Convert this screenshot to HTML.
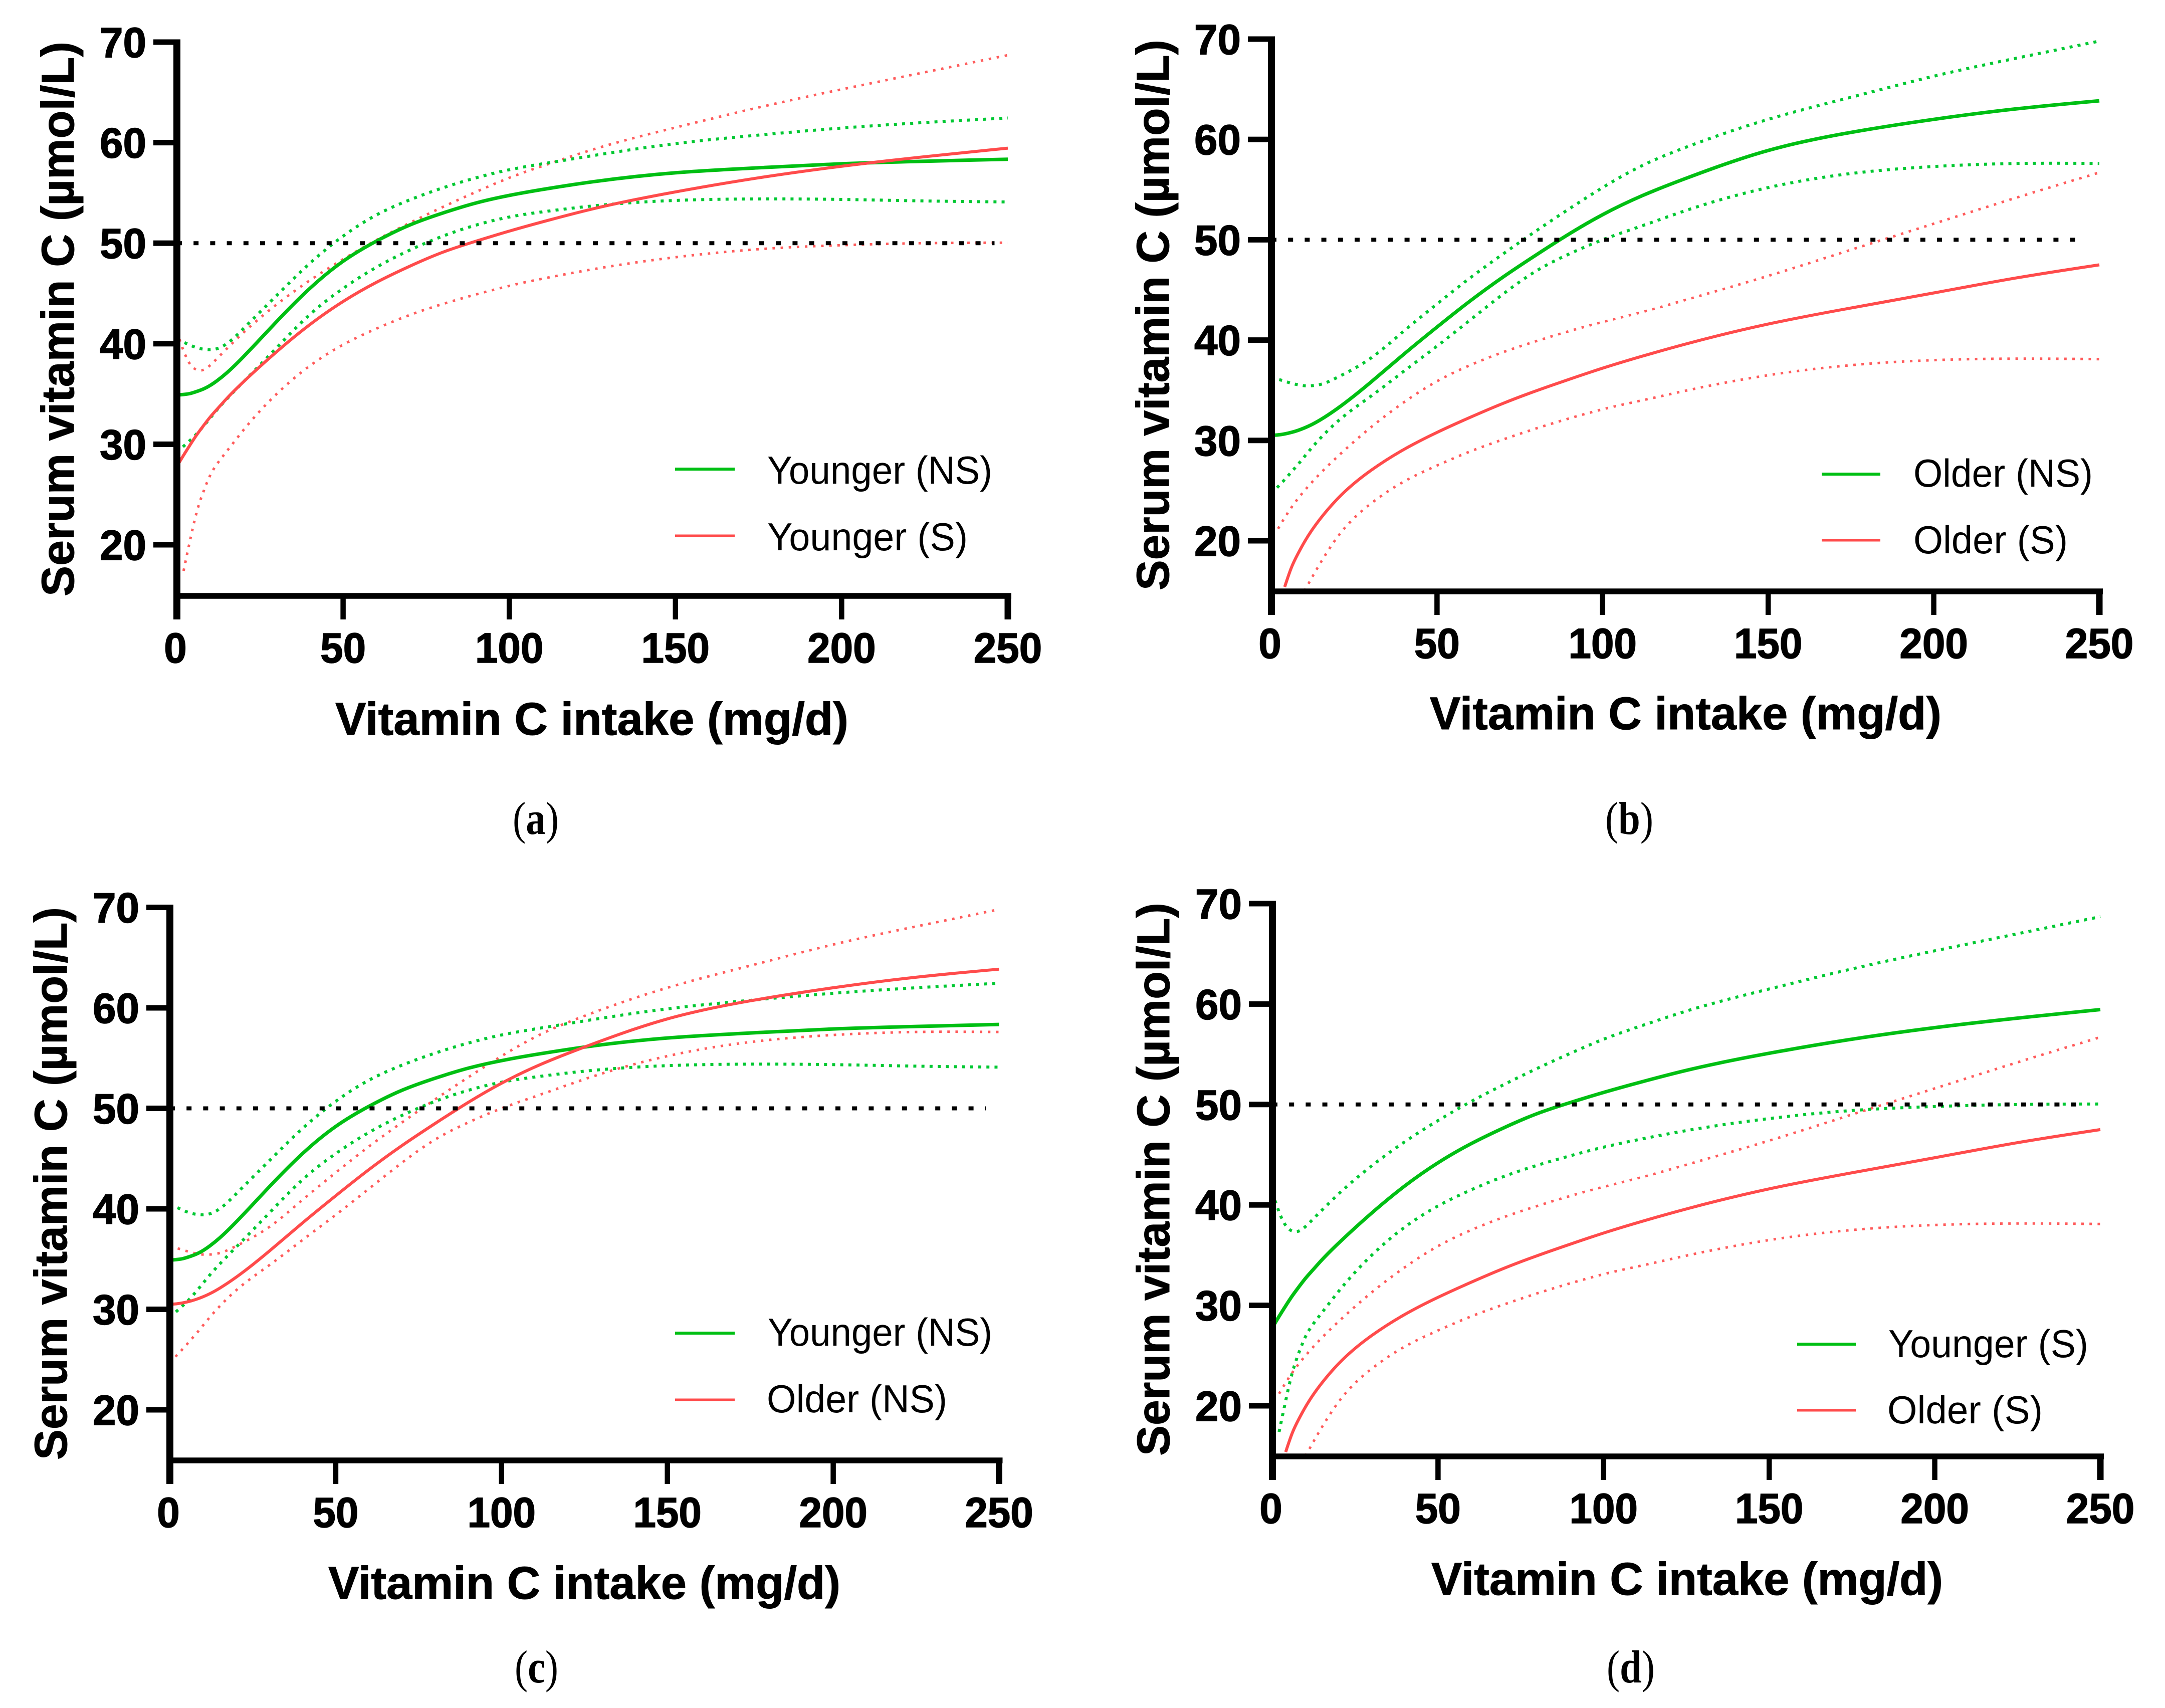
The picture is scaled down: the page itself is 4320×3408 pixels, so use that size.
<!DOCTYPE html>
<html lang="en">
<head>
<meta charset="utf-8">
<title>Serum vitamin C versus vitamin C intake</title>
<style>
html,body{margin:0;padding:0;background:#fff}
svg{display:block}
.tick{font:bold 84px "Liberation Sans",Arial,sans-serif;fill:#000;stroke:#000;stroke-width:1.5px}
.title{font:bold 92px "Liberation Sans",Arial,sans-serif;fill:#000;stroke:#000;stroke-width:1px}
.legend{font:78px "Liberation Sans",Arial,sans-serif;fill:#000}
.caption{font:92px "Liberation Serif","Times New Roman",serif;fill:#000}
</style>
</head>
<body>
<svg id="figure" xmlns="http://www.w3.org/2000/svg" width="4320" height="3408" viewBox="0 0 4320 3408">
<rect width="4320" height="3408" fill="#fff"/>

<g id="panel-a">
<g id="plot-a"></g>
<text class="title" x="147" y="1190" transform="rotate(-90 147 1190)" textLength="1107" lengthAdjust="spacingAndGlyphs">Serum vitamin C (µmol/L)</text>
<text class="title" x="669" y="1466" textLength="1024" lengthAdjust="spacingAndGlyphs">Vitamin C intake (mg/d)</text>
<line x1="1347" x2="1466" y1="936" y2="936" stroke="#00BF13" stroke-width="6"/>
<text class="legend" x="1531" y="965" textLength="449" lengthAdjust="spacingAndGlyphs">Younger (NS)</text>
<line x1="1347" x2="1466" y1="1069" y2="1069" stroke="#FF4B4B" stroke-width="5"/>
<text class="legend" x="1531" y="1098" textLength="400" lengthAdjust="spacingAndGlyphs">Younger (S)</text>
<text class="caption" x="1023" y="1664" textLength="92" lengthAdjust="spacingAndGlyphs">(<tspan font-weight="bold">a</tspan>)</text>
</g>

<g id="panel-b">
<g id="plot-b"></g>
<text class="title" x="2332" y="1178" transform="rotate(-90 2332 1178)" textLength="1099" lengthAdjust="spacingAndGlyphs">Serum vitamin C (µmol/L)</text>
<text class="title" x="2853" y="1455" textLength="1021" lengthAdjust="spacingAndGlyphs">Vitamin C intake (mg/d)</text>
<line x1="3635" x2="3752" y1="946" y2="946" stroke="#00BF13" stroke-width="6"/>
<text class="legend" x="3818" y="971" textLength="358" lengthAdjust="spacingAndGlyphs">Older (NS)</text>
<line x1="3635" x2="3752" y1="1078" y2="1078" stroke="#FF4B4B" stroke-width="5"/>
<text class="legend" x="3818" y="1104" textLength="308" lengthAdjust="spacingAndGlyphs">Older (S)</text>
<text class="caption" x="3203" y="1664" textLength="96" lengthAdjust="spacingAndGlyphs">(<tspan font-weight="bold">b</tspan>)</text>
</g>

<g id="panel-c">
<g id="plot-c"></g>
<text class="title" x="133" y="2913" transform="rotate(-90 133 2913)" textLength="1103" lengthAdjust="spacingAndGlyphs">Serum vitamin C (µmol/L)</text>
<text class="title" x="655" y="3190" textLength="1022" lengthAdjust="spacingAndGlyphs">Vitamin C intake (mg/d)</text>
<line x1="1347" x2="1466" y1="2660" y2="2660" stroke="#00BF13" stroke-width="6"/>
<text class="legend" x="1532" y="2685" textLength="448" lengthAdjust="spacingAndGlyphs">Younger (NS)</text>
<line x1="1347" x2="1466" y1="2793" y2="2793" stroke="#FF4B4B" stroke-width="5"/>
<text class="legend" x="1530" y="2818" textLength="360" lengthAdjust="spacingAndGlyphs">Older (NS)</text>
<text class="caption" x="1027" y="3357" textLength="87" lengthAdjust="spacingAndGlyphs">(<tspan font-weight="bold">c</tspan>)</text>
</g>

<g id="panel-d">
<g id="plot-d"></g>
<text class="title" x="2333" y="2905" transform="rotate(-90 2333 2905)" textLength="1104" lengthAdjust="spacingAndGlyphs">Serum vitamin C (µmol/L)</text>
<text class="title" x="2856" y="3182" textLength="1021" lengthAdjust="spacingAndGlyphs">Vitamin C intake (mg/d)</text>
<line x1="3586" x2="3703" y1="2682" y2="2682" stroke="#00BF13" stroke-width="6"/>
<text class="legend" x="3768" y="2708" textLength="399" lengthAdjust="spacingAndGlyphs">Younger (S)</text>
<line x1="3586" x2="3703" y1="2814" y2="2814" stroke="#FF4B4B" stroke-width="5"/>
<text class="legend" x="3766" y="2840" textLength="310" lengthAdjust="spacingAndGlyphs">Older (S)</text>
<text class="caption" x="3206" y="3357" textLength="96" lengthAdjust="spacingAndGlyphs">(<tspan font-weight="bold">d</tspan>)</text>
</g>
</svg>

<script>
const intakeGrid = [0,2,4,6,8,10,12,15,20,30,40,50,60,70,80,90,100,112,125,150,175,200,225,250];
const xTickValues = [0,50,100,150,200,250];
const yTickValues = [20,30,40,50,60,70];
const referenceLevel = 50;
const referenceEnd = 246;

const youngerNsMid   = [34.9,34.95,35.05,35.25,35.5,35.85,36.3,37.1,38.7,42.2,45.5,48.2,50.2,51.8,53.0,54.0,54.75,55.45,56.1,57.0,57.5,57.9,58.15,58.35];
const youngerNsUpper = [40.4,40.15,39.85,39.6,39.45,39.4,39.5,40.0,41.5,44.8,48.0,50.7,52.8,54.3,55.5,56.5,57.3,58.0,58.7,59.9,60.75,61.45,62.0,62.45];
const youngerNsLower = [29.2,29.8,30.4,31.05,31.8,32.6,33.4,34.5,36.2,39.6,42.9,45.5,47.6,49.3,50.7,51.8,52.6,53.2,53.7,54.25,54.4,54.35,54.2,54.1];

const youngerSMid   = [27.8,28.9,29.95,30.95,31.85,32.7,33.45,34.55,36.2,39.2,41.9,44.2,46.1,47.7,49.1,50.2,51.2,52.3,53.4,55.1,56.5,57.65,58.6,59.45];
const youngerSUpper = [41.2,39.3,37.95,37.4,37.4,37.85,38.5,39.5,41.1,43.9,46.3,48.4,50.3,52.0,53.6,55.1,56.5,57.9,59.3,61.5,63.5,65.3,67.0,68.7];
const youngerSLower = [null,17.4,20.5,23.3,25.3,26.9,28.0,29.3,31.4,35.0,37.8,39.9,41.5,42.85,43.95,44.9,45.75,46.6,47.4,48.6,49.4,49.8,50.0,50.05];

const olderNsMid   = [30.5,30.55,30.65,30.8,31.0,31.25,31.55,32.1,33.2,35.8,38.6,41.3,43.9,46.3,48.5,50.6,52.5,54.4,56.1,58.9,60.7,62.0,63.05,63.85];
const olderNsUpper = [36.3,36.1,35.9,35.7,35.55,35.45,35.45,35.6,36.3,38.2,40.9,43.6,46.2,48.6,50.9,53.1,55.2,57.4,59.2,62.0,64.2,66.3,68.1,69.8];
const olderNsLower = [24.7,25.4,26.1,26.85,27.6,28.4,29.2,30.3,31.9,34.4,36.9,39.4,42.0,44.6,46.9,48.6,50.0,51.4,52.9,55.2,56.6,57.3,57.6,57.6];

const olderSMid   = [null,null,15.4,17.3,18.7,19.9,20.95,22.3,24.2,27.0,29.1,30.8,32.3,33.7,34.95,36.1,37.2,38.4,39.6,41.6,43.2,44.7,46.2,47.5];
const olderSUpper = [null,21.2,22.3,23.3,24.2,25.0,25.75,26.8,28.4,31.3,33.8,35.9,37.5,38.8,39.9,40.9,41.8,42.8,44.0,46.4,49.0,51.6,54.2,56.7];
const olderSLower = [null,null,null,null,null,15.0,16.2,17.9,20.4,23.7,25.9,27.5,28.9,30.1,31.2,32.2,33.1,34.0,34.95,36.5,37.5,38.0,38.15,38.1];

const NS = 'http://www.w3.org/2000/svg';

function svgEl(tag, attrs, parent) {
  const el = document.createElementNS(NS, tag);
  for (const key in attrs) { el.setAttribute(key, attrs[key]); }
  parent.appendChild(el);
  return el;
}

/* Natural cubic spline through the points, emitted as Bezier segments. */
function splinePath(pts) {
  const n = pts.length;
  const h = [];
  for (let i = 0; i < n - 1; i++) { h.push(pts[i + 1][0] - pts[i][0]); }
  const a = new Array(n).fill(0), b = new Array(n).fill(1), c = new Array(n).fill(0), r = new Array(n).fill(0);
  for (let i = 1; i < n - 1; i++) {
    a[i] = h[i - 1];
    b[i] = 2 * (h[i - 1] + h[i]);
    c[i] = h[i];
    r[i] = 6 * ((pts[i + 1][1] - pts[i][1]) / h[i] - (pts[i][1] - pts[i - 1][1]) / h[i - 1]);
  }
  for (let i = 1; i < n; i++) {
    const w = a[i] / b[i - 1];
    b[i] -= w * c[i - 1];
    r[i] -= w * r[i - 1];
  }
  const m = new Array(n).fill(0);
  m[n - 1] = r[n - 1] / b[n - 1];
  for (let i = n - 2; i >= 0; i--) { m[i] = (r[i] - c[i] * m[i + 1]) / b[i]; }
  let d = 'M' + pts[0][0].toFixed(2) + ' ' + pts[0][1].toFixed(2);
  for (let i = 0; i < n - 1; i++) {
    const s = (pts[i + 1][1] - pts[i][1]) / h[i];
    const t0 = s - h[i] * (2 * m[i] + m[i + 1]) / 6;
    const t1 = s + h[i] * (m[i] + 2 * m[i + 1]) / 6;
    const k = h[i] / 3;
    d += 'C' + (pts[i][0] + k).toFixed(2) + ' ' + (pts[i][1] + t0 * k).toFixed(2) +
         ' ' + (pts[i + 1][0] - k).toFixed(2) + ' ' + (pts[i + 1][1] - t1 * k).toFixed(2) +
         ' ' + pts[i + 1][0].toFixed(2) + ' ' + pts[i + 1][1].toFixed(2);
  }
  return d;
}

function drawSeries(parent, scaleX, scaleY, values, style) {
  const pts = [];
  values.forEach(function (v, i) {
    if (v !== null) { pts.push([scaleX(intakeGrid[i]), scaleY(v)]); }
  });
  const path = svgEl('path', { d: splinePath(pts), fill: 'none', stroke: style.color, 'stroke-width': style.width }, parent);
  if (style.dash) { path.setAttribute('stroke-dasharray', style.dash); }
  return path;
}

const solidGreen = { color: '#00BF13', width: 7 };
const solidRed = { color: '#FF4B4B', width: 6 };
const dotGreen = { color: '#00C832', width: 6, dash: '6 10.2' };
const dotRed = { color: '#FF5C5C', width: 5, dash: '5 11.2' };

function drawPanel(cfg) {
  const plot = document.getElementById(cfg.id);
  const scaleX = function (v) { return cfg.x0 + (cfg.x250 - cfg.x0) * v / 250; };
  const scaleY = function (v) { return cfg.y20 + (cfg.y70 - cfg.y20) * (v - 20) / 50; };

  const dots1 = drawSeries(plot, scaleX, scaleY, cfg.redUpper, dotRed);
  
  
  const dots2 = drawSeries(plot, scaleX, scaleY, cfg.redLower, dotRed);
  
  
  const dots3 = drawSeries(plot, scaleX, scaleY, cfg.greenUpper, dotGreen);
  
  
  const dots4 = drawSeries(plot, scaleX, scaleY, cfg.greenLower, dotGreen);
  
  
  const greenLine = drawSeries(plot, scaleX, scaleY, cfg.greenMid, solidGreen);
  
  
  const redLine = drawSeries(plot, scaleX, scaleY, cfg.redMid, solidRed);
  
  

  const ref = svgEl('line', {
    x1: scaleX(0), x2: scaleX(referenceEnd), y1: scaleY(referenceLevel), y2: scaleY(referenceLevel),
    stroke: '#000', 'stroke-width': 8, 'stroke-dasharray': '10 23.2'
  }, plot);
  
  

  const tickBottom = cfg.axisY + 47;
  const yAxis = svgEl('rect', {
    x: cfg.x0 - 7, y: scaleY(70) - 5.5, width: 14, height: tickBottom - scaleY(70) + 5.5, fill: '#000'
  }, plot);
  
  
  const xAxis = svgEl('rect', {
    x: cfg.x0, y: cfg.axisY - 5.75, width: cfg.x250 - cfg.x0 + 7, height: 11.5, fill: '#000'
  }, plot);
  
  

  yTickValues.forEach(function (v) {
    const mark = svgEl('rect', { x: cfg.x0 - 47, y: scaleY(v) - 5.5, width: 47, height: 11, fill: '#000' }, plot);
    
    
    const label = svgEl('text', {
      class: 'tick', x: cfg.x0 - 61, y: scaleY(v) + 30, 'text-anchor': 'end',
      textLength: 93, lengthAdjust: 'spacingAndGlyphs'
    }, plot);
    label.textContent = String(v);
    
    
  });

  xTickValues.forEach(function (v) {
    if (v > 0) {
      const w = v === 250 ? 13 : 10.5;
      const mark = svgEl('rect', { x: scaleX(v) - w / 2, y: cfg.axisY, width: w, height: 47, fill: '#000' }, plot);
      
      
    }
    const text = String(v);
    const label = svgEl('text', {
      class: 'tick', x: scaleX(v) - (v === 0 ? 3 : 0), y: cfg.axisY + 133, 'text-anchor': 'middle',
      textLength: text.length * 45.5, lengthAdjust: 'spacingAndGlyphs'
    }, plot);
    label.textContent = text;
    
    
  });
}

drawPanel({ id: 'plot-a', x0: 353, x250: 2011, y20: 1087, y70: 84, axisY: 1189,
  greenMid: youngerNsMid, greenUpper: youngerNsUpper, greenLower: youngerNsLower,
  redMid: youngerSMid, redUpper: youngerSUpper, redLower: youngerSLower });
drawPanel({ id: 'plot-b', x0: 2537, x250: 4189, y20: 1079, y70: 78, axisY: 1180,
  greenMid: olderNsMid, greenUpper: olderNsUpper, greenLower: olderNsLower,
  redMid: olderSMid, redUpper: olderSUpper, redLower: olderSLower });
drawPanel({ id: 'plot-c', x0: 339, x250: 1993.5, y20: 2813, y70: 1810.5, axisY: 2914,
  greenMid: youngerNsMid, greenUpper: youngerNsUpper, greenLower: youngerNsLower,
  redMid: olderNsMid, redUpper: olderNsUpper, redLower: olderNsLower });
drawPanel({ id: 'plot-d', x0: 2539, x250: 4191, y20: 2805, y70: 1803, axisY: 2906,
  greenMid: youngerSMid, greenUpper: youngerSUpper, greenLower: youngerSLower,
  redMid: olderSMid, redUpper: olderSUpper, redLower: olderSLower });
</script>
</body>
</html>
